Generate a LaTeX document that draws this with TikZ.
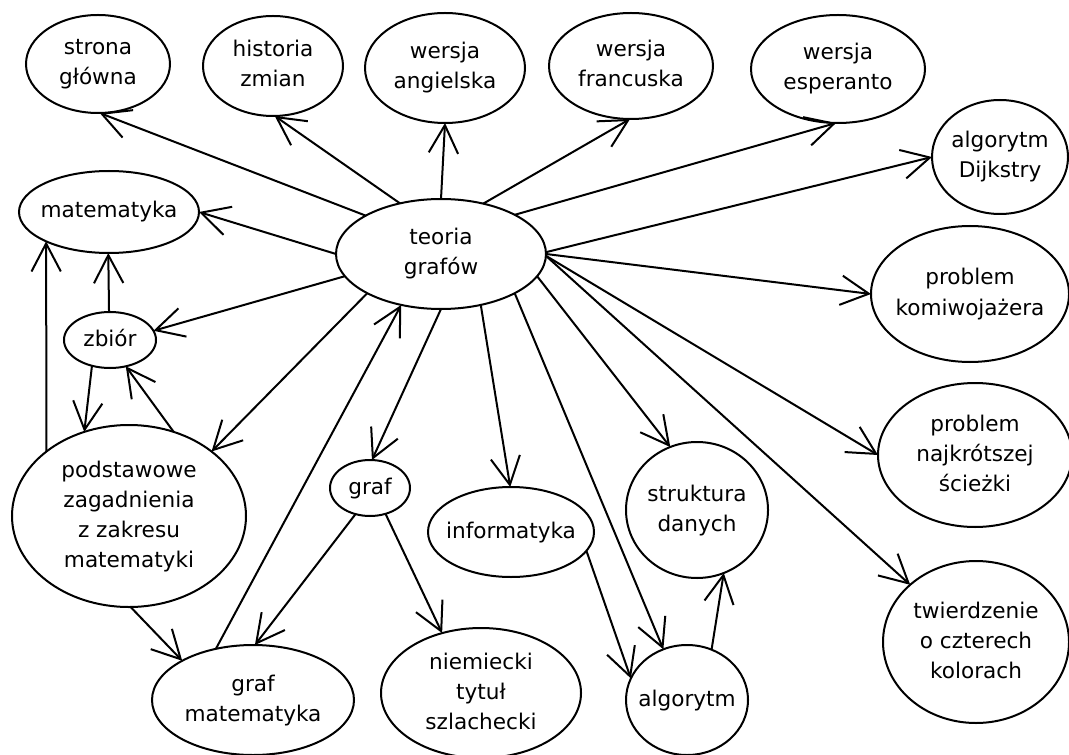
\documentclass[tikz,border=0pt]{standalone}
\usepackage{fontspec}
\setmainfont{DejaVu Sans}
\usetikzlibrary{shapes.geometric,arrows.meta}
\newcommand{\lbl}[1]{\makebox[0pt]{\begin{tabular}{@{}c@{}}#1\end{tabular}}}
\begin{document}
\begin{tikzpicture}[x=0.75pt,y=-0.75pt,
  ell/.style 2 args={ellipse,draw,line width=1.5pt,inner sep=0pt,outer sep=0pt,
    minimum width=#1*1.5pt,minimum height=#2*1.5pt,font=\fontsize{16.2}{22.5}\selectfont},
  arr/.style={line width=1.5pt,-{Straight Barb[length=21pt,width=22pt]}}]
\useasboundingbox[fill=white] (0,0) rectangle (1069,755);

\node[ell={72}{49}] (strona) at (98,64) {\lbl{strona\\główna}};
\node[ell={70}{50}] (historia) at (273,66) {\lbl{historia\\zmian}};
\node[ell={80}{55}] (angielska) at (445,68) {\lbl{wersja\\angielska}};
\node[ell={82}{53}] (francuska) at (631,66) {\lbl{wersja\\francuska}};
\node[ell={87}{54}] (esperanto) at (838,69) {\lbl{wersja\\esperanto}};
\node[ell={68}{57}] (dijkstry) at (1000,157) {\lbl{algorytm\\Dijkstry}};
\node[ell={90}{41}] (matematyka) at (109,212) {\lbl{matematyka}};
\node[ell={105}{55}] (teoria) at (441,254) {\lbl{teoria\\grafów}};
\node[ell={46}{28}] (zbior) at (110,340) {\lbl{zbiór}};
\node[ell={99}{68}] (komiwoj) at (970,294) {\lbl{problem\\komiwojażera}};
\node[ell={117}{91}] (podst) at (129,516) {\lbl{podstawowe\\zagadnienia\\z zakresu\\matematyki}};
\node[ell={40}{28}] (graf) at (370,488) {\lbl{graf}};
\node[ell={83}{45}] (informatyka) at (511,532) {\lbl{informatyka}};
\node[ell={71}{68}] (struktura) at (697,510) {\lbl{struktura\\danych}};
\node[ell={97}{72}] (najkrot) at (975,455) {\lbl{problem\\najkrótszej\\ścieżki}};
\node[ell={93}{81}] (twierdz) at (976,642) {\lbl{twierdzenie\\o czterech\\kolorach}};
\node[ell={101}{55}] (grafmat) at (253,700) {\lbl{graf\\matematyka}};
\node[ell={100}{65}] (niemiecki) at (481,693) {\lbl{niemiecki\\tytuł\\szlachecki}};
\node[ell={61}{55}] (algorytm) at (687,700) {\lbl{algorytm}};

\draw[arr] (teoria.153) -- (strona.-88);
\draw[arr] (teoria.129) -- (historia.-88);
\draw[arr] (teoria.90) -- (angielska.-90);
\draw[arr] (teoria.50) -- (francuska.-91);
\draw[arr] (teoria.28) -- (esperanto.-92);
\draw[arr] (teoria.1) -- (dijkstry.180);
\draw[arr] (teoria.180) -- (matematyka.0);
\draw[arr] (teoria.193) -- (zbior.12);
\draw[arr] (teoria.0) -- (komiwoj.180);
\draw[arr] (teoria.208) -- (podst.38);
\draw[arr] (grafmat.126) -- (teoria.232);
\draw[arr] (teoria.270) -- (graf.86);
\draw[arr] (teoria.-52) -- (informatyka.91);
\draw[arr] (teoria.-28) -- (algorytm.115);
\draw[arr] (teoria.-13) -- (struktura.113);
\draw[arr] (teoria.-1) -- (najkrot.180);
\draw[arr] (teoria.-1) -- (twierdz.139);
\draw[arr] (zbior.92) -- (matematyka.-91);
\draw[arr] (podst.142) -- (matematyka.205);
\draw[arr] (zbior.235) -- (podst.118);
\draw[arr] (podst.62) -- (zbior.-59);
\draw[arr] (podst.-89) -- (grafmat.151);
\draw[arr] (graf.-119) -- (grafmat.88);
\draw[arr] (graf.-59) -- (niemiecki.123);
\draw[arr] (informatyka.-14) -- (algorytm.159);
\draw[arr] (algorytm.64) -- (struktura.-67);
\end{tikzpicture}
\end{document}
